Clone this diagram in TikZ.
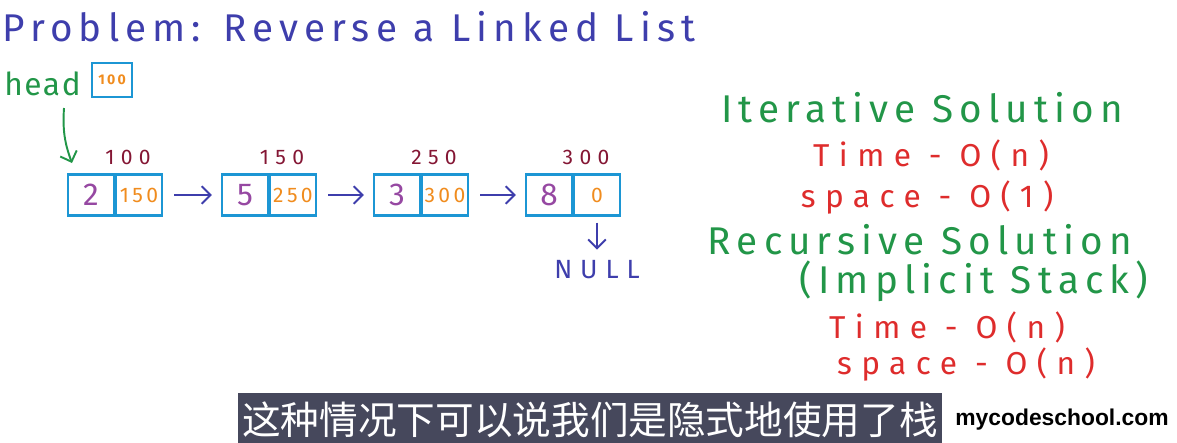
\documentclass[tikz,border=0pt]{standalone}
\usepackage{fontspec}
\usepackage{tikz}
\usetikzlibrary{arrows.meta,positioning,calc}
\newfontfamily\hand[LetterSpace=16]{Fira Sans}
\newfontfamily\handwide[LetterSpace=30]{Fira Sans}
\newfontfamily\handtight[LetterSpace=5]{Fira Sans}
\newfontfamily\cjk{Noto Sans CJK SC}
\newfontfamily\logo{Liberation Sans}
\definecolor{inkblue}{RGB}{62,62,172}
\definecolor{inkgreen}{RGB}{34,150,72}
\definecolor{inkred}{RGB}{222,44,44}
\definecolor{inkmaroon}{RGB}{132,22,52}
\definecolor{inkpurple}{RGB}{150,72,162}
\definecolor{inkorange}{RGB}{240,140,30}
\definecolor{boxcyan}{RGB}{28,150,212}
\definecolor{subgray}{RGB}{70,72,92}

\begin{document}
\begin{tikzpicture}[x=0.02cm,y=-0.02cm,
    cell/.style={draw=boxcyan, line width=1.4pt, minimum width=0.92cm, minimum height=0.82cm, inner sep=0pt},
    link/.style={-{Straight Barb[length=5pt]}, inkblue, line width=1.1pt},
    heading/.style={text=inkgreen, font=\hand\fontsize{22}{24}\selectfont},
    cost/.style={text=inkred, font=\handwide\fontsize{18}{20}\selectfont}]
    \useasboundingbox (0,0) rectangle (1177,443);

    % 标题
    \node[text=inkblue, font=\hand\fontsize{22}{24}\selectfont] (title) at (349,27) {Problem: Reverse a Linked List};

    % head 指针
    \node[anchor=west, inner sep=0pt, text=inkgreen, font=\handtight\fontsize{18}{20}\selectfont] (head) at (4,84) {head};
    \node[draw=boxcyan, line width=1.4pt, minimum width=0.8cm, minimum height=0.68cm, inner sep=0pt,
          text=inkorange, font=\hand\bfseries\fontsize{8}{9}\selectfont] (hbox) at (112,80) {100};

    % 链表节点：编号/左边x/数据/下一地址/本节点地址
    \foreach \i/\x/\v/\p/\a in {1/68/2/150/100, 2/222/5/250/150, 3/374/3/300/250, 4/526/8/0/300} {
        \node[cell, text=inkpurple, font=\hand\fontsize{18}{20}\selectfont] (d\i) at (\x+23,195) {\v};
        \node[cell, text=inkorange, font=\hand\fontsize{12}{14}\selectfont] (p\i) at (\x+71,195) {\p};
        \node[text=inkmaroon, font=\handwide\fontsize{12}{14}\selectfont] (a\i) at (\x+60,157) {\a};
    }

    % 节点之间的箭头
    \foreach \i/\j in {1/2, 2/3, 3/4} {
        \draw[link, shorten <=0.22cm, shorten >=0.18cm] (p\i.east) -- (d\j.west);
    }

    % head 指向第一个节点
    \coordinate (htip) at (72,163);
    \draw[-{Straight Barb[length=5pt]}, inkgreen, line width=1.1pt] (64,108) to[bend right=12] (htip);

    % 最后一个节点指向 NULL
    \node[text=inkblue, font=\handwide\fontsize{15}{17}\selectfont] (null) at (597,270) {NULL};
    \draw[link, shorten <=0.12cm, shorten >=0.1cm] (p4.south) -- (null.north);

    % 右侧说明
    \node[heading] (iter) at (922,108) {Iterative Solution};
    \node[cost] (itime) at (931,155) {Time - O(n)};
    \node[cost] (ispace) at (927,198) {space - O(1)};
    \node[heading] (rec) at (920,240) {Recursive Solution};
    \node[heading] (stack) at (974,281) {(Implicit Stack)};
    \node[cost] (rtime) at (947,327) {Time - O(n)};
    \node[cost] (rspace) at (966,365) {space - O(n)};

    % 字幕
    \node[fill=subgray, minimum width=14.1cm, minimum height=1.1cm, inner sep=0pt,
          text=white, font=\cjk\fontsize{22}{24}\selectfont] (sub) at (590,420) {这种情况下可以说我们是隐式地使用了栈};
    \node[font=\logo\bfseries\fontsize{13}{15}\selectfont] (site) at (1062,420) {mycodeschool.com};
\end{tikzpicture}
\end{document}
